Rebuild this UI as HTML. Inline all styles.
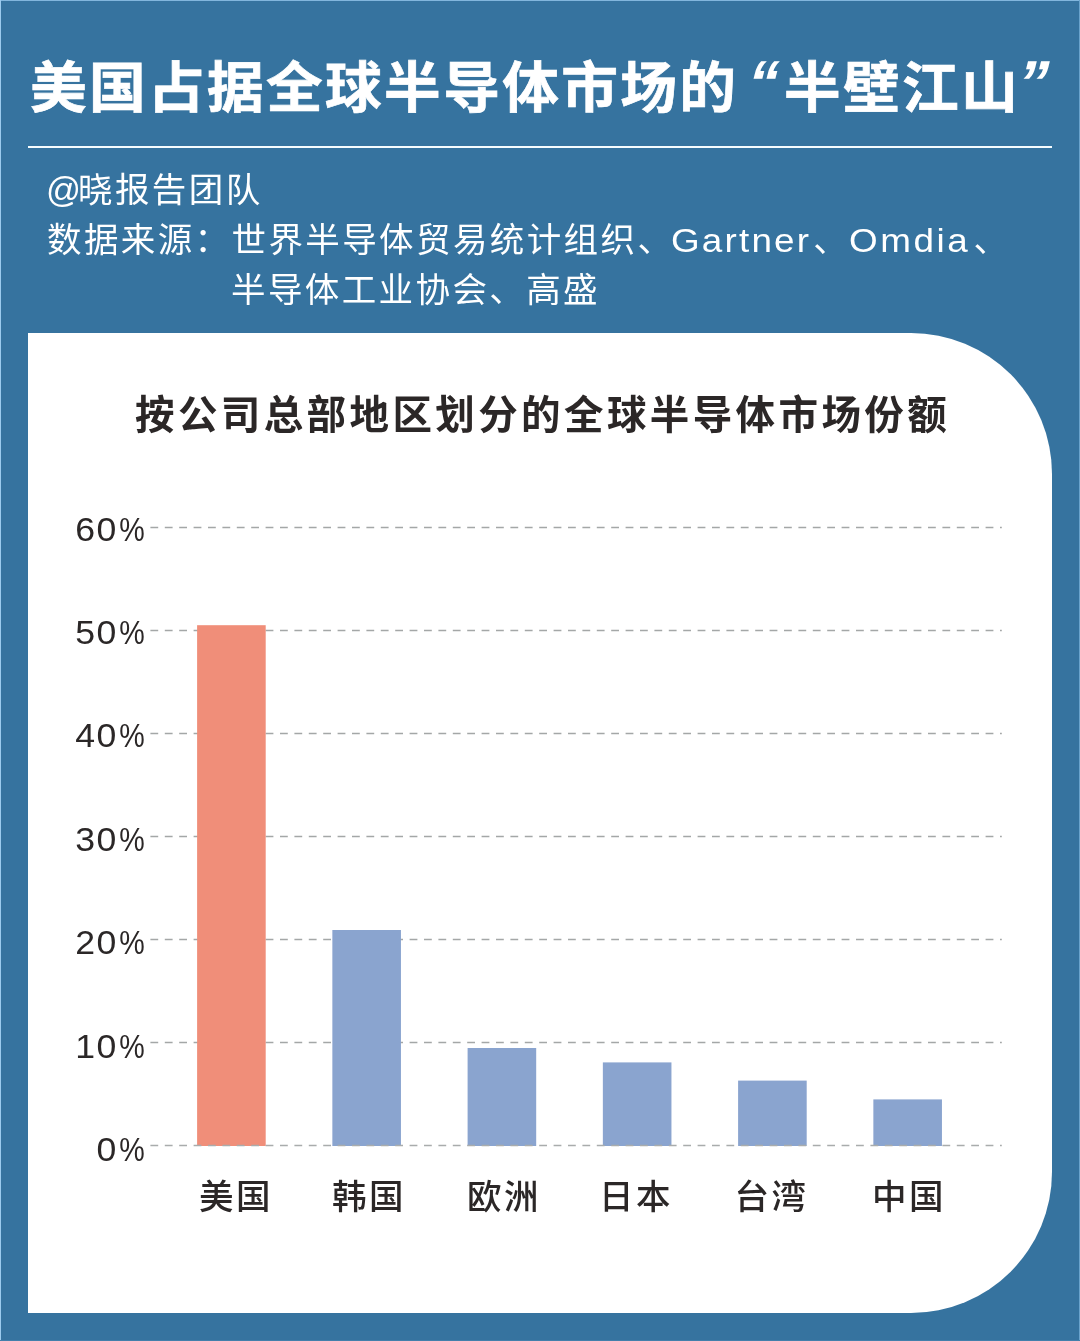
<!DOCTYPE html>
<html lang="zh-CN">
<head>
<meta charset="utf-8">
<title>美国占据全球半导体市场的“半壁江山”</title>
<style>
  html, body { margin: 0; padding: 0; }
  body {
    width: 1080px; height: 1341px; overflow: hidden; position: relative;
    background: #36739f;
    font-family: "Liberation Sans", "Noto Sans CJK SC", sans-serif;
  }
  .edge-t { position: absolute; left: 0; top: 0; width: 1080px; height: 1px; background: #82b6dd; }
  .edge-l { position: absolute; left: 0; top: 0; width: 1px; height: 1341px; background: #9ccbee; }
  .edge-b { position: absolute; left: 0; top: 1340px; width: 1080px; height: 1px; background: #437fab; }
  .edge-r { position: absolute; left: 1079px; top: 0; width: 1px; height: 1341px; background: #6aa3cc; }
  .abs { position: absolute; white-space: nowrap; }

  /* headline */
  .title { position: absolute; left: 0; top: 0; width: 1080px; height: 140px; margin: 0;
    color: #fff; font-weight: 700; font-size: 55px; line-height: 80px; }
  .title span { position: absolute; top: 48px; white-space: nowrap; }
  .title .t { letter-spacing: 2.3px; transform: scaleX(1.03); transform-origin: 0 50%;
    -webkit-text-stroke: 0.7px #fff; }
  .title .q { top: 43px !important; font-size: 62px; transform: skewX(-14deg); transform-origin: 50% 50%; }

  .rule { position: absolute; left: 27.8px; top: 145.9px; width: 1024.4px; height: 2.3px; background: #f6fcff; }

  /* credits */
  .sub { color: #fff; font-size: 34.5px; line-height: 48px; letter-spacing: 2.4px; font-weight: 400; }
  .sub .lat { display: inline-block; font-size: 33.5px; transform: scaleX(1.1); transform-origin: 0 50%; }

  .panel {
    position: absolute; left: 27.8px; top: 333px; width: 1024.5px; height: 980px;
    background: #fff; border-radius: 0 141px 141px 0;
  }
  .ctitle {
    left: 135px; top: 389px; color: #2b2727;
    font-weight: 700; font-size: 39.5px; line-height: 52px; letter-spacing: 3.4px;
  }
  .ylab {
    left: 30px; width: 114.7px; text-align: right; color: #2b2727;
    font-size: 33.3px; line-height: 40px; letter-spacing: 0;
  }
  .ylab span { display: inline-block; }
  .ylab .n { letter-spacing: 1.5px; transform: scaleX(1.07); transform-origin: 100% 50%; margin-right: -3.4px; }
  .ylab .p { transform: scaleX(0.86); transform-origin: 100% 50%; }
  .chart { position: absolute; left: 0; top: 0; }
  .xlab {
    color: #2b2727; top: 1172.5px; font-weight: 500;
    font-size: 34.5px; line-height: 48px; letter-spacing: 2.4px;
  }
</style>
</head>
<body>
  <div class="edge-t"></div>
  <div class="edge-l"></div>
  <div class="edge-r"></div>
  <div class="edge-b"></div>

  <h1 class="title"><span class="t" style="left:30.3px">美国占据全球半导体市场的</span><span class="q" style="left:748px">“</span><span class="t" style="left:784.1px">半壁江山</span><span class="q" style="left:1018px">”</span></h1>
  <div class="rule"></div>

  <div class="abs sub" style="left:46px; top:166px;"><span style="letter-spacing:-3px">@</span>晓报告团队</div>
  <div class="abs sub" style="left:47px; top:216px;">数据来源：世界半导体贸易统计组织、<span class="lat" style="margin-left:-3px; margin-right:14.5px; letter-spacing:1.98px">Gartner</span>、<span class="lat" style="margin-left:-1.3px; margin-right:14.5px; letter-spacing:2.3px">Omdia</span>、</div>
  <div class="abs sub" style="left:231px; top:265.5px;">半导体工业协会、高盛</div>

  <div class="panel"></div>
  <div class="abs ctitle">按公司总部地区划分的全球半导体市场份额</div>


  <svg class="chart" width="1080" height="1341" viewBox="0 0 1080 1341">
   <g stroke="#a4a7a7" stroke-width="1.6" stroke-dasharray="7.8 6.6" fill="none">
    <line x1="150.4" x2="1001.8" y1="527.55" y2="527.55"/>
    <line x1="150.4" x2="1001.8" y1="630.55" y2="630.55"/>
    <line x1="150.4" x2="1001.8" y1="733.55" y2="733.55"/>
    <line x1="150.4" x2="1001.8" y1="836.55" y2="836.55"/>
    <line x1="150.4" x2="1001.8" y1="939.55" y2="939.55"/>
    <line x1="150.4" x2="1001.8" y1="1042.55" y2="1042.55"/>
   </g>
   <g stroke="none">
    <rect x="197.10" y="625.2" width="68.6" height="520.8" fill="#f08e79"/>
    <rect x="332.35" y="930.0" width="68.6" height="216.0" fill="#8aa4cf"/>
    <rect x="467.60" y="1048.0" width="68.6" height="98.0" fill="#8aa4cf"/>
    <rect x="602.85" y="1062.4" width="68.6" height="83.6" fill="#8aa4cf"/>
    <rect x="738.10" y="1080.6" width="68.6" height="65.4" fill="#8aa4cf"/>
    <rect x="873.35" y="1099.4" width="68.6" height="46.6" fill="#8aa4cf"/>
   </g>
   <line x1="150.4" x2="1001.8" y1="1145.55" y2="1145.55" stroke="#a9acac" stroke-width="1.6" stroke-dasharray="7.8 6.6"/>
  </svg>

  <div class="abs ylab" style="top:509.5px"><span class="n">60</span><span class="p">%</span></div>
  <div class="abs ylab" style="top:612.9px"><span class="n">50</span><span class="p">%</span></div>
  <div class="abs ylab" style="top:716.3px"><span class="n">40</span><span class="p">%</span></div>
  <div class="abs ylab" style="top:819.7px"><span class="n">30</span><span class="p">%</span></div>
  <div class="abs ylab" style="top:923.1px"><span class="n">20</span><span class="p">%</span></div>
  <div class="abs ylab" style="top:1026.5px"><span class="n">10</span><span class="p">%</span></div>
  <div class="abs ylab" style="top:1129.9px"><span class="n">0</span><span class="p">%</span></div>



  <div class="abs xlab" style="left:199px">美国</div>
  <div class="abs xlab" style="left:332px">韩国</div>
  <div class="abs xlab" style="left:467px">欧洲</div>
  <div class="abs xlab" style="left:599px">日本</div>
  <div class="abs xlab" style="left:734.5px">台湾</div>
  <div class="abs xlab" style="left:872px">中国</div>
</body>
</html>
